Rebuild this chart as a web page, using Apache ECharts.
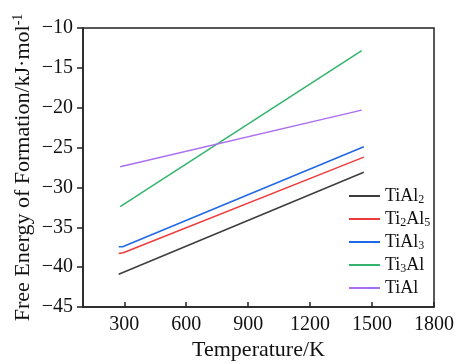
<!DOCTYPE html>
<html>
<head>
<meta charset="utf-8">
<script src="https://cdn.jsdelivr.net/npm/echarts@6/dist/echarts.min.js"></script>
<style>html,body{margin:0;padding:0;background:#fff;}#c{width:459px;height:364px;}</style>
</head>
<body>
<div id="c"></div>
<script>
// Data
const seriesNames = ['TiAl2', 'Ti2Al5', 'TiAl3', 'Ti3Al', 'TiAl'];
const tiAl2T = [273, 1460];
const tiAl2G = [-40.9, -28.1];
const ti2Al5T = [273, 295, 1460];
const ti2Al5G = [-38.3, -38.2, -26.2];
const tiAl3T = [273, 292, 1460];
const tiAl3G = [-37.45, -37.45, -24.9];
const ti3AlT = [280, 1450];
const ti3AlG = [-32.4, -12.85];
const tiAlT = [280, 1450];
const tiAlG = [-27.4, -20.3];
const xTicks = [300, 600, 900, 1200, 1500, 1800];
const yTicks = [-45, -40, -35, -30, -25, -20, -15, -10];

const colors = ['#3d3d3d', '#ef3b3b', '#2068e6', '#33b36b', '#ab6ef0'];
const FONT = 'Liberation Serif';

function pairs(t, g) { return t.map((v, i) => [v, g[i]]); }
const allData = [pairs(tiAl2T, tiAl2G), pairs(ti2Al5T, ti2Al5G), pairs(tiAl3T, tiAl3G), pairs(ti3AlT, ti3AlG), pairs(tiAlT, tiAlG)];

function subRich(name) {
  return name.replace(/([A-Za-z]+)|(\d+)/g, (m, a, d) => a ? '{n|' + a + '}' : '{s|' + d + '}');
}

const chart = echarts.init(document.getElementById('c'), null, {renderer: 'canvas'});
chart.setOption({
  animation: false,
  backgroundColor: '#fff',
  textStyle: {fontFamily: FONT},
  grid: {left: 83, right: 25, top: 28, bottom: 57, containLabel: false, outerBoundsMode: 'none',
         show: true, borderColor: '#222', borderWidth: 1.5, backgroundColor: 'transparent'},
  legend: {
    orient: 'vertical', left: 344, top: 182, itemWidth: 31, itemHeight: 2, itemGap: 4, icon: 'rect',
    data: seriesNames,
    formatter: subRich,
    textStyle: {
      fontFamily: FONT, fontSize: 18, color: '#111',
      rich: {
        n: {fontFamily: FONT, fontSize: 18, color: '#111', lineHeight: 20},
        s: {fontFamily: FONT, fontSize: 12, color: '#111', verticalAlign: 'bottom', padding: [8, 0, 0, 0]}
      }
    }
  },
  xAxis: {
    type: 'value', min: 100, max: 1800,
    name: 'Temperature/K', nameLocation: 'middle', nameGap: 32, nameMoveOverlap: false,
    nameTextStyle: {fontFamily: FONT, fontSize: 22, color: '#111'},
    axisLine: {show: true, lineStyle: {color: '#222', width: 1.5}},
    axisTick: {show: true, inside: true, length: 5, customValues: xTicks, lineStyle: {color: '#222', width: 1.5}},
    axisLabel: {customValues: xTicks, formatter: v => String(v), fontFamily: FONT, fontSize: 20, color: '#111', margin: 8},
    splitLine: {show: false}
  },
  yAxis: {
    type: 'value', min: -45, max: -10, interval: 5,
    name: '{n|Free Energy of Formation/kJ·mol}{s|-1}', nameLocation: 'middle', nameGap: 48, nameMoveOverlap: false,
    nameTextStyle: {
      fontFamily: FONT, fontSize: 22, color: '#111',
      rich: {
        n: {fontFamily: FONT, fontSize: 22, color: '#111', lineHeight: 24},
        s: {fontFamily: FONT, fontSize: 14, color: '#111', verticalAlign: 'top', padding: [0, 0, 8, 0]}
      }
    },
    axisLine: {show: true, lineStyle: {color: '#222', width: 1.5}},
    axisTick: {show: true, inside: false, length: 6, lineStyle: {color: '#222', width: 1.5}},
    axisLabel: {formatter: v => String(v).replace('-', '\u2212'), fontFamily: FONT, fontSize: 20, color: '#111', margin: 10},
    splitLine: {show: false}
  },
  series: seriesNames.map((n, i) => ({
    name: n, type: 'line', data: allData[i], showSymbol: false, symbol: 'none',
    lineStyle: {color: colors[i], width: 1.5}, itemStyle: {color: colors[i]}
  }))
});
</script>
</body>
</html>
